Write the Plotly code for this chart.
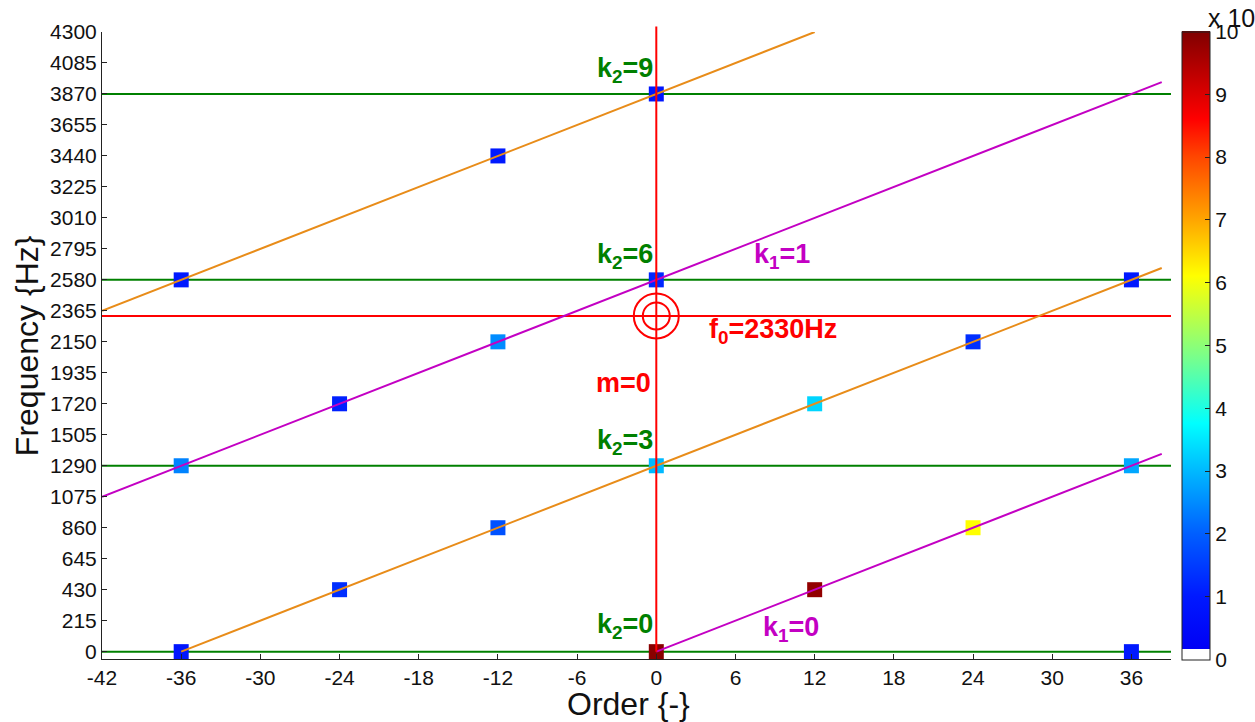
import plotly.graph_objects as go

# ---------------- data ----------------
order_ticks = list(range(-42, 37, 6))
freq_ticks = list(range(0, 4301, 215))

pt_order = [-36, -36, -36, -24, -24, -12, -12, -12, 0, 0, 0, 0, 12, 12, 24, 24, 36, 36, 36]
pt_freq = [0, 1290, 2580, 430, 1720, 860, 2150, 3440, 0, 1290, 2580, 3870, 430, 1720, 860, 2150, 0, 1290, 2580]
pt_value = [0.9, 2.4, 1.0, 1.3, 1.1, 1.8, 2.5, 1.0, 9.9, 3.0, 1.2, 0.9, 9.8, 3.3, 6.1, 1.3, 1.0, 2.8, 1.0]

k2_freqs = [0, 1290, 2580, 3870]           # horizontal green lines
f0 = 2330                                   # red horizontal line
slope = 430 / 12                            # Hz per order
k1_intercepts = [0, 2580]                   # magenta lines
k1_x0 = [0, -42]
k1_x1 = [38.3, 38.3]
or_intercepts = [1290, 3870]                # orange lines
or_x0 = [-36, -42]
or_x1 = [38.3, 12]

cb_ticks = list(range(0, 11))

GREEN = "rgb(0,128,0)"
MAGENTA = "rgb(195,0,195)"
ORANGE = "rgb(232,140,25)"
RED = "rgb(255,0,0)"
FONT = "Liberation Sans, Arial, sans-serif"

colorscale = [
    [0.0, "rgb(255,255,255)"], [0.0156, "rgb(255,255,255)"],
    [0.0157, "rgb(0,0,245)"],
    [0.1, "rgb(0,25,255)"],
    [0.2, "rgb(0,95,255)"],
    [0.3, "rgb(0,185,255)"],
    [0.375, "rgb(0,255,255)"],
    [0.48, "rgb(120,255,140)"],
    [0.61, "rgb(255,255,0)"],
    [0.7, "rgb(255,165,0)"],
    [0.8, "rgb(255,70,0)"],
    [0.86, "rgb(255,0,0)"],
    [1.0, "rgb(128,0,0)"],
]

XR = [-42, 39]
YR = [-51, 4300]

fig = go.Figure()

# green k2 lines
for f in k2_freqs:
    fig.add_trace(go.Scatter(x=XR, y=[f, f], mode="lines",
                             line=dict(color=GREEN, width=2), showlegend=False, hoverinfo="skip"))

# markers with colorbar
fig.add_trace(go.Scatter(
    x=pt_order, y=pt_freq, mode="markers", showlegend=False,
    marker=dict(symbol="square", size=15, color=pt_value, colorscale=colorscale,
                cmin=0, cmax=10, line=dict(width=0),
                showscale=True,
                colorbar=dict(thickness=28, len=1.002, lenmode="fraction",
                              x=1.0093, xanchor="left", y=0.5, yanchor="middle",
                              xpad=0, ypad=0, outlinewidth=1, outlinecolor="#222",
                              tickvals=cb_ticks, ticktext=[str(t) for t in cb_ticks],
                              ticks="inside", ticklen=5, tickcolor="#222",
                              tickfont=dict(family=FONT, size=21, color="#111")))))

# red horizontal f0 line
fig.add_trace(go.Scatter(x=XR, y=[f0, f0], mode="lines",
                         line=dict(color=RED, width=2), showlegend=False, hoverinfo="skip"))

# magenta k1 lines
for b, a0, a1 in zip(k1_intercepts, k1_x0, k1_x1):
    fig.add_trace(go.Scatter(x=[a0, a1], y=[b + slope * a0, b + slope * a1], mode="lines",
                             line=dict(color=MAGENTA, width=2), showlegend=False, hoverinfo="skip"))

# orange lines
for b, a0, a1 in zip(or_intercepts, or_x0, or_x1):
    fig.add_trace(go.Scatter(x=[a0, a1], y=[b + slope * a0, b + slope * a1], mode="lines",
                             line=dict(color=ORANGE, width=2), showlegend=False, hoverinfo="skip"))

# red vertical m=0 line
fig.add_shape(type="line", xref="x", yref="paper", x0=0, x1=0,
              y0=(0 - YR[0]) / (YR[1] - YR[0]), y1=1.0086,
              line=dict(color=RED, width=2))

# concentric circles at f0
for s in [27, 45]:
    fig.add_trace(go.Scatter(x=[0], y=[f0], mode="markers", showlegend=False, hoverinfo="skip",
                             marker=dict(symbol="circle-open", size=s, color=RED,
                                         line=dict(color=RED, width=2))))

# text labels
labels = [
    ("k<sub>2</sub>=9", -2.36, 4035, GREEN),
    ("k<sub>2</sub>=6", -2.36, 2745, GREEN),
    ("k<sub>2</sub>=3", -2.36, 1455, GREEN),
    ("k<sub>2</sub>=0", -2.36, 180, GREEN),
    ("k<sub>1</sub>=1", 9.52, 2744, MAGENTA),
    ("k<sub>1</sub>=0", 10.2, 158, MAGENTA),
    ("f<sub>0</sub>=2330Hz", 8.88, 2223, RED),
    ("m=0", -2.5, 1862, RED),
]
for txt, lx, ly, col in labels:
    fig.add_annotation(x=lx, y=ly, xref="x", yref="y", text="<b>" + txt + "</b>",
                       showarrow=False, xanchor="center", yanchor="middle",
                       font=dict(family=FONT, size=27, color=col))

# axis titles
fig.add_annotation(x=0.4927, y=-0.0725, xref="paper", yref="paper", text="Order {-}",
                   showarrow=False, xanchor="center", yanchor="middle",
                   font=dict(family=FONT, size=32, color="#111"))
fig.add_annotation(x=-0.0705, y=0.5, xref="paper", yref="paper",
                   text="Frequency {Hz}", textangle=-90,
                   showarrow=False, xanchor="center", yanchor="middle",
                   font=dict(family=FONT, size=32, color="#111"))
fig.add_annotation(x=1.0, y=1.0, xref="paper", yref="paper", text="x 10",
                   showarrow=False, xanchor="left", yanchor="bottom", xshift=35, yshift=-2,
                   font=dict(family=FONT, size=25, color="#111"))

axis_common = dict(showgrid=False, zeroline=False, showline=True, linecolor="#222", linewidth=1,
                   ticks="inside", ticklen=5, tickcolor="#222", mirror=False,
                   tickfont=dict(family=FONT, size=21, color="#111"))

fig.update_layout(
    width=1255, height=722,
    margin=dict(l=102, r=83, t=32, b=63),
    paper_bgcolor="white", plot_bgcolor="white",
    xaxis=dict(range=XR, tickvals=order_ticks, ticktext=[str(t) for t in order_ticks], **axis_common),
    yaxis=dict(range=YR, tickvals=freq_ticks, ticktext=[str(t) for t in freq_ticks], **axis_common),
)

fig.write_html("out.html", config={"displayModeBar": False})

with open("out.html", "r", encoding="utf-8") as fh:
    html = fh.read()
html = html.replace("<head>", "<head><style>html,body{margin:0;padding:0;overflow:hidden}</style>", 1)
with open("out.html", "w", encoding="utf-8") as fh:
    fh.write(html)
